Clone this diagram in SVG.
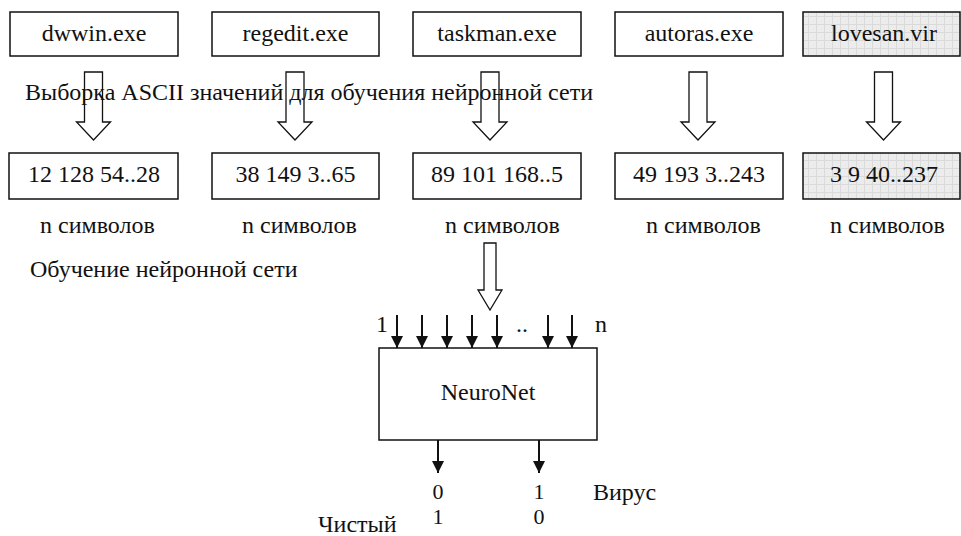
<svg xmlns="http://www.w3.org/2000/svg" width="961" height="536" viewBox="0 0 961 536" font-family="'Liberation Serif', 'Times New Roman', Times, serif">
<style>
text{font-family:"Liberation Serif","Times New Roman",Times,serif;font-size:24px;fill:#111}
.c{text-anchor:middle}
.o{font-size:22px}
.box{fill:#fff;stroke:#111;stroke-width:1.5}
.vir{fill:url(#grid);stroke:#111;stroke-width:1.5}
.blk{fill:none;stroke:#111;stroke-width:1.3}
.ln{stroke:#111;stroke-width:2;fill:none}
</style>
<defs>
<pattern id="grid" width="8" height="8" patternUnits="userSpaceOnUse">
<rect width="8" height="8" fill="#ececec"/>
<path d="M0 0.5H8M0.5 0V8" stroke="#dadada" stroke-width="1"/>
</pattern>
<marker id="ah2" viewBox="0 0 10 10" refX="10" refY="5" markerWidth="13" markerHeight="12" markerUnits="userSpaceOnUse" orient="auto">
<path d="M0 0L10 5L0 10Z" fill="#111"/>
</marker>
</defs>

<text x="25" y="100">Выборка ASCII значений для обучения нейронной сети</text>
<text x="30" y="277">Обучение нейронной сети</text>

<g id="n-dwwin"><rect class="box" x="10" y="12" width="168" height="44"/><text class="c" x="94" y="41">dwwin.exe</text></g>
<g id="n-regedit"><rect class="box" x="212" y="12" width="167" height="44"/><text class="c" x="295.5" y="41">regedit.exe</text></g>
<g id="n-taskman"><rect class="box" x="413" y="12" width="168" height="44"/><text class="c" x="497" y="41">taskman.exe</text></g>
<g id="n-autoras"><rect class="box" x="615" y="12" width="168" height="44"/><text class="c" x="699" y="41">autoras.exe</text></g>
<g id="n-lovesan"><rect class="vir" x="803" y="12" width="157" height="44"/><text class="c" x="884" y="41">lovesan.vir</text></g>

<g id="n-v1"><rect class="box" x="9" y="153" width="169" height="46"/><text class="c" x="94" y="182">12 128 54..28</text></g>
<g id="n-v2"><rect class="box" x="212" y="153" width="167" height="46"/><text class="c" x="295.5" y="182">38 149 3..65</text></g>
<g id="n-v3"><rect class="box" x="413" y="153" width="168" height="46"/><text class="c" x="497" y="182">89 101 168..5</text></g>
<g id="n-v4"><rect class="box" x="615" y="153" width="168" height="46"/><text class="c" x="699" y="182">49 193 3..243</text></g>
<g id="n-v5"><rect class="vir" x="803" y="153" width="157" height="46"/><text class="c" x="884" y="182">3 9 40..237</text></g>

<g id="labels-n">
<text x="40" y="233">n символов</text>
<text x="242" y="233">n символов</text>
<text x="445" y="233">n символов</text>
<text x="646" y="233">n символов</text>
<text x="830" y="233">n символов</text>
</g>

<g id="n-neuronet">
<rect class="box" x="379" y="348" width="218" height="92"/>
<text class="c" x="488" y="400">NeuroNet</text>
<text x="376" y="332">1</text>
<text x="516" y="332">..</text>
<text x="595" y="332">n</text>
</g>

<g id="n-out">
<text class="c o" x="438" y="499">0</text>
<text class="c o" x="539" y="499">1</text>
<text class="c o" x="438" y="524">1</text>
<text class="c o" x="539" y="524">0</text>
<text x="593" y="500">Вирус</text>
<text x="318" y="532">Чистый</text>
</g>

<g id="connectors">
<path class="blk" d="M84.5 72H102.5V122H110.5L93.5 140L76.5 122H84.5Z"/>
<path class="blk" d="M286 72H304V122H312L295 140L278 122H286Z"/>
<path class="blk" d="M481 72H499V122H507L490 140L473 122H481Z"/>
<path class="blk" d="M689 72H707V122H715L698 140L681 122H689Z"/>
<path class="blk" d="M874.5 72H892.5V122H900.5L883.5 140L866.5 122H874.5Z"/>
<path class="blk" d="M484 243H496V290H502L490 310L478 290H484Z"/>
<g class="ln" marker-end="url(#ah2)">
<path d="M397 315V348"/>
<path d="M422 315V348"/>
<path d="M447 315V348"/>
<path d="M472 315V348"/>
<path d="M497 315V348"/>
<path d="M548 315V348"/>
<path d="M572 315V348"/>
<path d="M438 440V473"/>
<path d="M539 440V473"/>
</g>
</g>
</svg>
